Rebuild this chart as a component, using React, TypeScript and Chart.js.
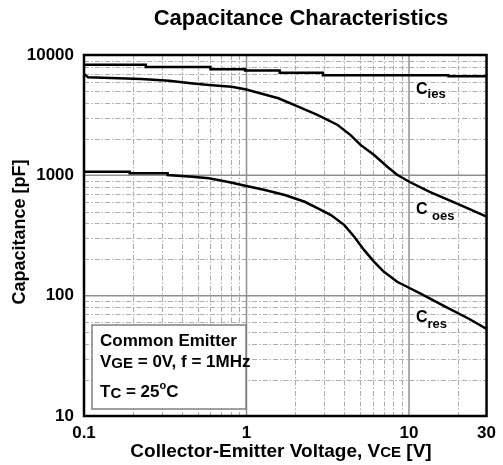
import React, { useEffect, useRef } from 'react';
import { Chart, registerables } from 'chart.js';

Chart.register(...registerables);

// ---- data ----
const xTickValues = [0.1, 1, 10, 30];
const yTickValues = [10, 100, 1000, 10000];
const xGridMinor = [0.2, 0.3, 0.4, 0.5, 0.6, 0.7, 0.8, 0.9, 2, 3, 4, 5, 6, 7, 8, 9, 20];
const xGridMajor = [1, 10];
const yGridMinor = [20, 30, 40, 50, 60, 70, 80, 90, 200, 300, 400, 500, 600, 700, 800, 900, 2000, 3000, 4000, 5000, 6000, 7000, 8000, 9000];
const yGridMajor = [100, 1000];

const ciesVce = [0.1, 0.24, 0.24, 0.6, 0.6, 0.98, 0.98, 1.6, 1.6, 2.95, 2.95, 17.5, 17.5, 30];
const ciesPf = [8300, 8300, 7950, 7950, 7620, 7620, 7430, 7430, 7120, 7120, 6800, 6800, 6650, 6650];

const coesVce = [0.1, 0.106, 0.225, 0.334, 0.454, 0.586, 0.81, 0.982, 1.18, 1.57, 2.08, 2.75, 3.64, 4.37, 5.03, 6.1, 7.35, 8.45, 10.1, 13.4, 19.6, 30];
const coesPf = [6950, 6520, 6320, 6110, 5820, 5630, 5450, 5190, 4860, 4370, 3720, 3170, 2620, 2160, 1790, 1475, 1180, 1010, 880, 728, 585, 453];

const cresVce = [0.1, 0.191, 0.191, 0.327, 0.327, 0.464, 0.586, 0.707, 0.814, 0.982, 1.3, 1.72, 2.28, 2.75, 3.31, 4.0, 4.6, 5.3, 6.1, 7.01, 8.45, 9.72, 11.7, 17.05, 23.5, 30];
const cresPf = [1071, 1071, 1039, 1039, 1006, 974, 944, 902, 868, 820, 755, 686, 603, 532, 468, 386, 309, 239, 191, 158, 130.5, 118.6, 104.5, 80, 64, 52.8];

const FF = '"Liberation Sans", Arial, sans-serif';

type Part = { t: string; size: number; dy?: number };

function drawRuns(ctx: CanvasRenderingContext2D, parts: Part[], x: number, y: number, align: 'left' | 'center') {
  let w = 0;
  for (const p of parts) {
    ctx.font = `bold ${p.size}px ${FF}`;
    w += ctx.measureText(p.t).width;
  }
  let cx = align === 'center' ? x - w / 2 : x;
  ctx.textAlign = 'left';
  for (const p of parts) {
    ctx.font = `bold ${p.size}px ${FF}`;
    ctx.fillText(p.t, cx, y + (p.dy || 0));
    cx += ctx.measureText(p.t).width;
  }
}

const overlayPlugin = {
  id: 'overlay',
  beforeDatasetsDraw(chart: any) {
    const { ctx, chartArea: a, scales } = chart;
    const xs = scales.x;
    const ys = scales.y;
    ctx.save();
    ctx.beginPath();
    ctx.rect(a.left, a.top, a.right - a.left, a.bottom - a.top);
    ctx.clip();
    ctx.lineWidth = 1;
    ctx.strokeStyle = '#adadad';
    ctx.setLineDash([5, 2, 1.5, 2]);
    for (const v of xGridMinor) {
      const px = Math.round(xs.getPixelForValue(v)) + 0.5;
      ctx.beginPath(); ctx.moveTo(px, a.top); ctx.lineTo(px, a.bottom); ctx.stroke();
    }
    for (const v of yGridMinor) {
      const py = Math.round(ys.getPixelForValue(v)) + 0.5;
      ctx.beginPath(); ctx.moveTo(a.left, py); ctx.lineTo(a.right, py); ctx.stroke();
    }
    ctx.setLineDash([]);
    ctx.strokeStyle = '#8f8f8f';
    ctx.lineWidth = 1.5;
    for (const v of xGridMajor) {
      const px = xs.getPixelForValue(v);
      ctx.beginPath(); ctx.moveTo(px, a.top); ctx.lineTo(px, a.bottom); ctx.stroke();
    }
    for (const v of yGridMajor) {
      const py = ys.getPixelForValue(v);
      ctx.beginPath(); ctx.moveTo(a.left, py); ctx.lineTo(a.right, py); ctx.stroke();
    }
    ctx.restore();
  },
  afterDatasetsDraw(chart: any) {
    const { ctx, chartArea: a } = chart;
    ctx.save();
    // frame
    ctx.strokeStyle = '#000';
    ctx.lineWidth = 2.5;
    ctx.strokeRect(a.left, a.top, a.right - a.left, a.bottom - a.top);

    ctx.fillStyle = '#000';
    ctx.textBaseline = 'alphabetic';
    // curve labels
    drawRuns(ctx, [{ t: 'C', size: 16 }, { t: 'ies', size: 13, dy: 4 }], 416, 94, 'left');
    drawRuns(ctx, [{ t: 'C ', size: 16 }, { t: 'oes', size: 13, dy: 6 }], 416, 214, 'left');
    drawRuns(ctx, [{ t: 'C', size: 16 }, { t: 'res', size: 13, dy: 6 }], 416, 322, 'left');

    // condition box
    ctx.fillStyle = '#fff';
    ctx.fillRect(92, 325, 154, 84);
    ctx.strokeStyle = '#808080';
    ctx.lineWidth = 1.5;
    ctx.strokeRect(92, 325, 154, 84);
    ctx.fillStyle = '#000';
    drawRuns(ctx, [{ t: 'Common Emitter', size: 17 }], 100, 346, 'left');
    drawRuns(ctx, [{ t: 'V', size: 17 }, { t: 'GE', size: 15, dy: 1 }, { t: ' = 0V, f = 1MHz', size: 17 }], 100, 367, 'left');
    drawRuns(ctx, [{ t: 'T', size: 17 }, { t: 'C', size: 15, dy: 1 }, { t: ' = 25', size: 17 }, { t: 'o', size: 11, dy: -8 }, { t: 'C', size: 17 }], 100, 397, 'left');
    ctx.restore();
  },
  afterDraw(chart: any) {
    const { ctx } = chart;
    ctx.save();
    ctx.fillStyle = '#000';
    ctx.textBaseline = 'alphabetic';
    drawRuns(ctx, [{ t: 'Capacitance Characteristics', size: 22 }], 301, 25, 'center');
    drawRuns(ctx, [
      { t: 'Collector-Emitter Voltage, V', size: 19 },
      { t: 'CE', size: 15 },
      { t: ' [V]', size: 19 },
    ], 281, 457, 'center');
    ctx.translate(25, 232);
    ctx.rotate(-Math.PI / 2);
    drawRuns(ctx, [{ t: 'Capacitance [pF]', size: 18 }], 0, 0, 'center');
    ctx.restore();
  },
};

export default function App() {
  const ref = useRef<HTMLCanvasElement | null>(null);
  useEffect(() => {
    if (!ref.current) return;
    const mk = (xs: number[], ys: number[]) => xs.map((x, i) => ({ x, y: ys[i] }));
    const lineStyle = { borderColor: '#000', borderWidth: 2.5, pointRadius: 0, fill: false, tension: 0 };
    const tickFont = { family: FF, size: 17, weight: 'bold' as const };
    const chart = new Chart(ref.current, {
      type: 'line',
      data: {
        datasets: [
          { label: 'Cies', data: mk(ciesVce, ciesPf), ...lineStyle },
          { label: 'Coes', data: mk(coesVce, coesPf), ...lineStyle },
          { label: 'Cres', data: mk(cresVce, cresPf), ...lineStyle },
        ],
      },
      options: {
        responsive: false,
        animation: false,
        layout: { padding: { top: 55, right: 13, left: 0, bottom: 0 } },
        plugins: { legend: { display: false }, tooltip: { enabled: false }, title: { display: false } },
        scales: {
          x: {
            type: 'logarithmic',
            min: 0.1,
            max: 30,
            grid: { display: false, drawTicks: false },
            border: { display: false },
            afterBuildTicks: (s: any) => { s.ticks = xTickValues.map((v) => ({ value: v })); },
            afterFit: (s: any) => { s.height = 49; },
            ticks: { font: tickFont, color: '#000', padding: 7, maxRotation: 0, autoSkip: false, callback: (v: any) => String(v) },
          },
          y: {
            type: 'logarithmic',
            min: 10,
            max: 10000,
            grid: { display: false, drawTicks: false },
            border: { display: false },
            afterBuildTicks: (s: any) => { s.ticks = yTickValues.map((v) => ({ value: v })); },
            afterFit: (s: any) => { s.width = 84; },
            ticks: { font: tickFont, color: '#000', padding: 10, autoSkip: false, callback: (v: any) => String(v) },
          },
        },
      } as any,
      plugins: [overlayPlugin],
    });
    return () => chart.destroy();
  }, []);
  return (
    <div style={{ position: 'absolute', left: 0, top: 0, width: 503, height: 465, background: '#fff' }}>
      <canvas ref={ref} width={503} height={465} style={{ display: 'block' }} />
    </div>
  );
}
